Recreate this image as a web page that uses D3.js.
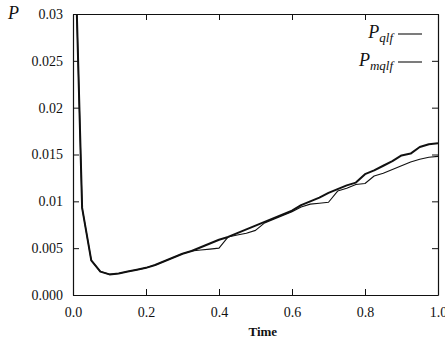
<!DOCTYPE html>
<html>
<head>
<meta charset="utf-8">
<script src="https://cdn.jsdelivr.net/npm/d3@7"></script>
<style>
  body { margin: 0; background: #fff; }
  svg text { font-family: "Liberation Serif", "DejaVu Serif", serif; fill: #111; }
</style>
</head>
<body>
<div id="chart"></div>
<script>
// time samples (shared by both series)
var time = [0, 0.025, 0.05, 0.075, 0.1, 0.125, 0.15, 0.175, 0.2, 0.225,
            0.25, 0.275, 0.3, 0.325, 0.35, 0.375, 0.4, 0.425, 0.45, 0.475,
            0.5, 0.525, 0.55, 0.575, 0.6, 0.625, 0.65, 0.675, 0.7, 0.725,
            0.75, 0.775, 0.8, 0.825, 0.85, 0.875, 0.9, 0.925, 0.95, 0.975, 1.0];

// P_qlf (thick line)
var pqlf = [0.045, 0.0093, 0.0037, 0.0025, 0.0022, 0.0023, 0.0025, 0.0027, 0.0029, 0.0032,
            0.0036, 0.0040, 0.0044, 0.0047, 0.0051, 0.0055, 0.0059, 0.0062, 0.0066, 0.0070,
            0.0074, 0.0078, 0.0082, 0.0086, 0.0090, 0.0096, 0.0100, 0.0104, 0.0109, 0.0113,
            0.0117, 0.0120, 0.0129, 0.0133, 0.0138, 0.0143, 0.0149, 0.0151, 0.0158, 0.0161, 0.0162];

// P_mqlf (thin line)
var pmqlf = [0.045, 0.0093, 0.0037, 0.0025, 0.0022, 0.0023, 0.0025, 0.0027, 0.0029, 0.0032,
             0.0036, 0.0040, 0.0044, 0.0047, 0.0048, 0.0049, 0.0050, 0.0062, 0.0064, 0.0066,
             0.0069, 0.0077, 0.0081, 0.0085, 0.0089, 0.0094, 0.0097, 0.0098, 0.0099, 0.0111,
             0.0114, 0.0118, 0.0119, 0.0127, 0.0130, 0.0134, 0.0138, 0.0142, 0.0145, 0.0147, 0.0148];

var xTicks = [0, 0.2, 0.4, 0.6, 0.8, 1.0];
var yTicks = [0, 0.005, 0.01, 0.015, 0.02, 0.025, 0.03];
var yTickLabels = ["0.000", "0.005", "0.01", "0.015", "0.02", "0.025", "0.03"];

var series = [
    { name: "qlf", values: pqlf, width: 2 },
    { name: "mqlf", values: pmqlf, width: 1.1 }
];

var serif = "Liberation Serif";

var W = 445, H = 341;
var margin = { top: 14, right: 7, bottom: 46, left: 73 };
var width = W - margin.left - margin.right,
    height = H - margin.top - margin.bottom;

var svg = d3.select("#chart").append("svg")
    .attr("width", W)
    .attr("height", H);

var g = svg.append("g")
    .attr("transform", "translate(" + margin.left + "," + margin.top + ")");

var x = d3.scaleLinear().domain([0, 1]).range([0, width]);
var y = d3.scaleLinear().domain([0, 0.03]).range([height, 0]);

// clip so the initial spike stops at the frame
g.append("clipPath").attr("id", "clip")
    .append("rect").attr("width", width).attr("height", height);

// axes with inward ticks
var fmtY = function (d) { return yTickLabels[yTicks.indexOf(d)]; };

var xAxis = g.append("g")
    .attr("transform", "translate(0," + height + ")")
    .call(d3.axisBottom(x).tickValues(xTicks).tickSizeInner(-6).tickSizeOuter(0)
        .tickPadding(12).tickFormat(d3.format(".1f")));

var yAxis = g.append("g")
    .call(d3.axisLeft(y).tickValues(yTicks).tickSizeInner(-6).tickSizeOuter(0)
        .tickPadding(10).tickFormat(fmtY));

g.append("g")
    .call(d3.axisTop(x).tickValues(xTicks).tickSizeInner(-6).tickSizeOuter(0).tickFormat(""));

g.append("g")
    .attr("transform", "translate(" + width + ",0)")
    .call(d3.axisRight(y).tickValues(yTicks).tickSizeInner(-6).tickSizeOuter(0).tickFormat(""));

[xAxis, yAxis].forEach(function (a) {
    a.attr("font-family", serif).attr("font-size", 14);
    a.selectAll("text")
        .attr("font-family", serif)
        .attr("font-size", 14)
        .attr("fill", "#111");
});
g.selectAll(".domain").attr("stroke", "#111").attr("stroke-width", 1.2);
g.selectAll(".tick line").attr("stroke", "#111");

// lines
var line = d3.line()
    .x(function (d, i) { return x(time[i]); })
    .y(function (d) { return y(d); });

g.append("g").attr("clip-path", "url(#clip)")
    .selectAll("path.series")
    .data(series)
    .enter().append("path")
    .attr("class", "series")
    .attr("fill", "none")
    .attr("stroke", "#111")
    .attr("stroke-width", function (d) { return d.width; })
    .attr("stroke-linejoin", "round")
    .attr("d", function (d) { return line(d.values); });

// axis titles
svg.append("text")
    .attr("x", 8).attr("y", 19)
    .attr("font-family", serif)
    .attr("font-style", "italic")
    .attr("font-size", 18)
    .text("P");

svg.append("text")
    .attr("x", margin.left + x(0.52)).attr("y", 336)
    .attr("text-anchor", "middle")
    .attr("font-family", serif)
    .attr("font-size", 13)
    .attr("font-weight", "bold")
    .text("Time");

// legend
var legend = svg.append("g");
var legY = [38, 66];
series.forEach(function (s, i) {
    var t = legend.append("text")
        .attr("x", 393).attr("y", legY[i])
        .attr("text-anchor", "end")
        .attr("font-family", serif)
        .attr("font-style", "italic")
        .attr("font-size", 18);
    t.append("tspan").text("P");
    t.append("tspan")
        .attr("dy", 4)
        .attr("font-size", 13)
        .text(s.name);
    legend.append("line")
        .attr("x1", 398).attr("x2", 422)
        .attr("y1", legY[i] - 4).attr("y2", legY[i] - 4)
        .attr("stroke", "#111")
        .attr("stroke-width", 1.1);
});
</script>
</body>
</html>
